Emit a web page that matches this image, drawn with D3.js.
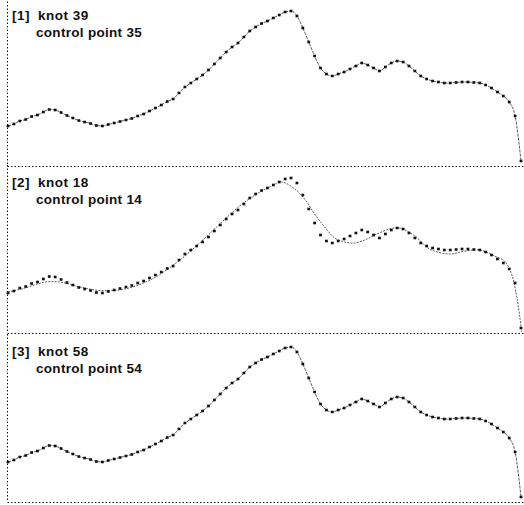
<!DOCTYPE html>
<html>
<head>
<meta charset="utf-8">
<script src="https://cdn.jsdelivr.net/npm/d3@7"></script>
<style>
  html, body { margin: 0; padding: 0; background: #fff; }
  svg { display: block; }
</style>
</head>
<body>
<div id="chart"></div>
<script>
// measured spectrum, one value per channel (same data in all three panels)
const intensity = [
  40, 42, 45, 46.5, 49.5, 51, 54, 56.5, 56, 53.5,
  50.5, 48, 45.5, 44, 42.5, 40.5, 40, 41.5, 43, 44.5,
  46, 47.5, 50, 52, 55, 58, 61, 64.5, 67, 73,
  79, 83, 87, 91, 96, 102, 108, 114, 119, 123,
  129, 135, 139, 142.5, 145, 148, 151, 154, 155, 150,
  138, 124, 110, 98, 92, 90, 92, 94, 97, 100,
  103, 101, 98, 95, 99, 103, 105, 104, 100, 95,
  90, 87, 85, 84, 83, 83, 83.5, 84, 84, 83.5,
  83, 81, 78, 74, 70, 64, 50, 5
];

// smooth B-spline fit of panel [2] (few knots)
const fit2X = [0, 2.9, 6.3, 8.8, 12.2, 15.6, 19.8, 24.1, 28.3, 32.5, 35.9, 39.3,
  41.9, 44.4, 46.4, 48.6, 50.3, 52, 53.7, 55.4, 57.1, 58.8, 60.5, 62.2, 64.7,
  66.4, 69, 71.5, 74.9, 77.5, 80, 82.5, 84.2, 85.4, 86.1, 86.8, 87.1];
const fit2Y = [41, 45, 51, 51, 46, 42.5, 44, 53, 69, 90, 109, 127,
  138, 146, 151, 144, 134, 119, 106, 95, 91, 90, 93, 98, 104,
  105, 97, 84, 79, 82, 83, 77, 72, 59, 42, 16, 1];

const panelIds = ['[1]', '[2]', '[3]'];
const knots = [39, 18, 58];
const controlPoints = [35, 14, 54];

const width = 524, height = 505;
const left = 7.5;
const panelTops = [-2, 165, 334];
const panelH = 168;

const svg = d3.select('#chart').append('svg')
  .attr('width', width)
  .attr('height', height);

const x = d3.scaleLinear().domain([0, intensity.length - 1]).range([8, 521]);

const dotted = '1.5,2';
const font = 'Liberation Sans, Arial, sans-serif';

panelIds.forEach((id, i) => {
  const top = panelTops[i];
  const bottom = top + panelH;
  const y = d3.scaleLinear().domain([0, panelH]).range([bottom, top]);
  const g = svg.append('g');

  // dotted frame (left + bottom, top edge of panel 1 is cut off)
  g.append('line')
    .attr('x1', left).attr('x2', left)
    .attr('y1', top).attr('y2', bottom)
    .attr('stroke', '#111').attr('stroke-width', 1)
    .attr('stroke-dasharray', dotted);
  g.append('line')
    .attr('x1', left).attr('x2', width)
    .attr('y1', bottom + 0.5).attr('y2', bottom + 0.5)
    .attr('stroke', '#111').attr('stroke-width', 1)
    .attr('stroke-dasharray', dotted);

  // fitted curve
  const line = d3.line()
    .x(d => x(d[0]))
    .y(d => y(d[1]));
  let fit;
  if (i === 1) {
    fit = fit2X.map((v, k) => [v, fit2Y[k]]);
    line.curve(d3.curveCatmullRom.alpha(0.5));
  } else {
    fit = intensity.map((v, k) => [k, v]);
    line.curve(d3.curveMonotoneX);
  }
  g.append('path')
    .datum(fit)
    .attr('d', line)
    .attr('fill', 'none')
    .attr('stroke', '#333')
    .attr('stroke-width', 0.8)
    .attr('stroke-dasharray', i === 1 ? '2,1.2' : '3,1');

  // data points
  g.selectAll('rect.pt')
    .data(intensity)
    .join('rect')
    .attr('class', 'pt')
    .attr('x', (d, k) => x(k) - 1.4)
    .attr('y', d => y(d) - 1.3)
    .attr('width', 2.8)
    .attr('height', 2.6)
    .attr('fill', '#111');

  // labels
  const t1 = g.append('text')
    .attr('y', top + 22)
    .attr('font-family', font)
    .attr('font-size', 13.5)
    .attr('font-weight', 'bold')
    .attr('letter-spacing', 0.5)
    .attr('fill', '#111');
  t1.append('tspan').attr('x', 12).text(id);
  t1.append('tspan').attr('x', 38).text(`knot ${knots[i]}`);
  g.append('text')
    .attr('x', 36).attr('y', top + 38.5)
    .attr('font-family', font)
    .attr('font-size', 13.5)
    .attr('font-weight', 'bold')
    .attr('letter-spacing', 0.3)
    .attr('fill', '#111')
    .text(`control point ${controlPoints[i]}`);
});
</script>
</body>
</html>
